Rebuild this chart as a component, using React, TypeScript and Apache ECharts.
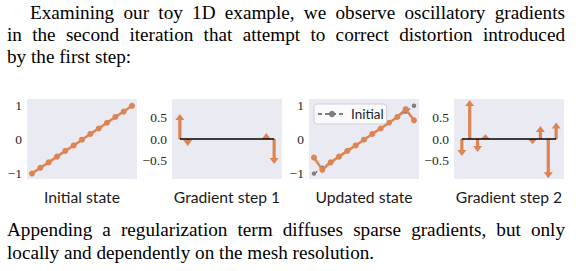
import React, { useEffect, useRef } from "react";
import * as echarts from "echarts";

// ---- data ----
const indices = [0, 1, 2, 3, 4, 5, 6, 7, 8, 9, 10, 11, 12];
const initialState = [-1, -0.83, -0.67, -0.5, -0.33, -0.17, 0, 0.17, 0.33, 0.5, 0.67, 0.83, 1];
const gradientStep1 = [0.57, -0.16, 0, 0, 0, 0, 0, 0, 0, 0, 0, 0.14, -0.57];
const updatedState = [-0.53, -0.89, -0.67, -0.5, -0.33, -0.17, 0, 0.17, 0.33, 0.5, 0.67, 0.9, 0.57];
const gradientStep2 = [-0.39, 0.89, -0.3, 0.11, 0, 0, 0, 0, 0, -0.12, 0.3, -0.9, 0.38];
const stateTicks = [-1, 0, 1];
const gradientTicks = [-0.5, 0, 0.5];
const panelTitles = ["Initial state", "Gradient step 1", "Updated state", "Gradient step 2"];
const legendLabel = "Initial";

const paragraphTop = [
  "Examining our toy 1D example, we observe oscillatory gradients",
  "in the second iteration that attempt to correct distortion introduced",
  "by the first step:",
];
const paragraphBottom = [
  "Appending a regularization term diffuses sparse gradients, but only",
  "locally and dependently on the mesh resolution.",
];

// ---- styling ----
const ORANGE = "#DD8452";
const GRAY = "#7f7f7f";
const BG = "#EAEAF2";
const gridLefts = [27, 172, 309, 454];
const GRID_TOP = 99;
const GRID_W = 110;
const GRID_H = 80;

const minus = (s: string) => s.replace("-", "\u2212");

function arrowRender(params: any, api: any) {
  const x = api.value(0);
  const v = api.value(1);
  if (Math.abs(v) < 1e-9) return null;
  const p0 = api.coord([x, 0]);
  const p1 = api.coord([x, v]);
  const L = Math.abs(p1[1] - p0[1]);
  const dir = p1[1] < p0[1] ? -1 : 1;
  const hl = Math.min(6, L);
  const hw = 4.5;
  const sw = 1.6;
  const cx = p0[0];
  const yb = p1[1] - dir * hl;
  const pts = [
    [cx - sw, p0[1]],
    [cx - sw, yb],
    [cx - hw, yb],
    [cx, p1[1]],
    [cx + hw, yb],
    [cx + sw, yb],
    [cx + sw, p0[1]],
  ];
  return { type: "polygon", shape: { points: pts }, style: { fill: ORANGE } };
}

function buildOption() {
  const labelStyle = {
    fontFamily: "Liberation Serif",
    fontSize: 13.5,
    color: "#262626",
    margin: 5,
  };
  const stateAxis = (i: number) => ({
    type: "value",
    gridIndex: i,
    min: -1.16,
    max: 1.2,
    axisLine: { show: false },
    axisTick: { show: false },
    splitLine: { show: false },
    axisLabel: {
      ...labelStyle,
      customValues: stateTicks,
      formatter: (v: number) => minus(String(v)),
    },
  });
  const gradAxis = (i: number) => ({
    type: "value",
    gridIndex: i,
    min: -0.915,
    max: 0.915,
    axisLine: { show: false },
    axisTick: { show: false },
    splitLine: { show: false },
    axisLabel: {
      ...labelStyle,
      customValues: gradientTicks,
      formatter: (v: number) => minus(v.toFixed(1)),
    },
  });
  const xState = (i: number) => ({ type: "value", gridIndex: i, min: -0.6, max: 12.6, show: false });
  const xGrad = (i: number) => ({ type: "value", gridIndex: i, min: -1, max: 13, show: false });

  const pairs = (arr: number[]) => indices.map((x, i) => [x, arr[i]]);
  const zeroLine = [
    [indices[0], 0],
    [indices[indices.length - 1], 0],
  ];

  return {
    animation: false,
    grid: gridLefts.map((l) => ({
      left: l,
      top: GRID_TOP,
      width: GRID_W,
      height: GRID_H,
      show: true,
      backgroundColor: BG,
      borderWidth: 0,
      containLabel: false,
    })),
    xAxis: [xState(0), xGrad(1), xState(2), xGrad(3)],
    yAxis: [stateAxis(0), gradAxis(1), stateAxis(2), gradAxis(3)],
    legend: {
      data: [legendLabel],
      left: 314,
      top: 104,
      padding: [3, 3, 3, 3],
      itemWidth: 28,
      itemHeight: 8,
      itemGap: 8,
      backgroundColor: "rgba(255,255,255,0.75)",
      borderColor: "#cfcfd6",
      borderWidth: 1,
      borderRadius: 3,
      textStyle: { fontFamily: "Lato", fontSize: 13.5, color: "#262626" },
    },
    series: [
      {
        type: "line",
        xAxisIndex: 0,
        yAxisIndex: 0,
        data: pairs(initialState),
        symbol: "circle",
        symbolSize: 6,
        lineStyle: { color: ORANGE, width: 2.5 },
        itemStyle: { color: ORANGE },
      },
      {
        type: "custom",
        xAxisIndex: 1,
        yAxisIndex: 1,
        data: pairs(gradientStep1),
        renderItem: arrowRender,
        z: 2,
      },
      {
        type: "line",
        xAxisIndex: 1,
        yAxisIndex: 1,
        data: zeroLine,
        symbol: "none",
        lineStyle: { color: "#000", width: 1.5 },
        z: 5,
      },
      {
        type: "line",
        name: legendLabel,
        xAxisIndex: 2,
        yAxisIndex: 2,
        data: pairs(initialState),
        symbol: "circle",
        symbolSize: 4.5,
        lineStyle: { color: GRAY, width: 1.5, type: [4, 3] },
        itemStyle: { color: GRAY },
        z: 2,
      },
      {
        type: "line",
        xAxisIndex: 2,
        yAxisIndex: 2,
        data: pairs(updatedState),
        symbol: "circle",
        symbolSize: 6,
        lineStyle: { color: ORANGE, width: 2.5 },
        itemStyle: { color: ORANGE },
        z: 3,
      },
      {
        type: "custom",
        xAxisIndex: 3,
        yAxisIndex: 3,
        data: pairs(gradientStep2),
        renderItem: arrowRender,
        z: 2,
      },
      {
        type: "line",
        xAxisIndex: 3,
        yAxisIndex: 3,
        data: zeroLine,
        symbol: "none",
        lineStyle: { color: "#000", width: 1.5 },
        z: 5,
      },
    ],
    graphic: panelTitles.map((t, i) => ({
      type: "text",
      x: gridLefts[i] + GRID_W / 2,
      y: 197,
      style: {
        text: t,
        textAlign: "center",
        textVerticalAlign: "middle",
        fontFamily: "Lato",
        fontSize: 15.7,
        fill: "#1a1a1a",
      },
    })),
  };
}

const bodyFont: React.CSSProperties = {
  position: "absolute",
  fontFamily: "'Liberation Serif', serif",
  fontSize: 19.2,
  lineHeight: "22px",
  color: "#000",
  margin: 0,
};

export default function App() {
  const ref = useRef<HTMLDivElement>(null);
  useEffect(() => {
    if (!ref.current) return;
    const chart = echarts.init(ref.current, null, { renderer: "svg" });
    chart.setOption(buildOption() as any);
    return () => chart.dispose();
  }, []);

  const topLines = [
    { left: 30, top: 2, width: 535, justify: true },
    { left: 7, top: 24, width: 558, justify: true },
    { left: 7, top: 46, width: 558, justify: false },
  ];
  const bottomLines = [
    { left: 7, top: 219, width: 558, justify: true },
    { left: 7, top: 242, width: 558, justify: false },
  ];

  return (
    <div style={{ position: "absolute", left: 0, top: 0, width: 576, height: 271, background: "#fff", overflow: "hidden" }}>
      <div ref={ref} style={{ position: "absolute", left: 0, top: 0, width: 576, height: 271 }} />
      {paragraphTop.map((t, i) => (
        <div
          key={"t" + i}
          style={{
            ...bodyFont,
            left: topLines[i].left,
            top: topLines[i].top,
            width: topLines[i].width,
            textAlign: topLines[i].justify ? "justify" : "left",
            textAlignLast: topLines[i].justify ? "justify" : "left",
          }}
        >
          {t}
        </div>
      ))}
      {paragraphBottom.map((t, i) => (
        <div
          key={"b" + i}
          style={{
            ...bodyFont,
            left: bottomLines[i].left,
            top: bottomLines[i].top,
            width: bottomLines[i].width,
            textAlign: bottomLines[i].justify ? "justify" : "left",
            textAlignLast: bottomLines[i].justify ? "justify" : "left",
          }}
        >
          {t}
        </div>
      ))}
    </div>
  );
}
